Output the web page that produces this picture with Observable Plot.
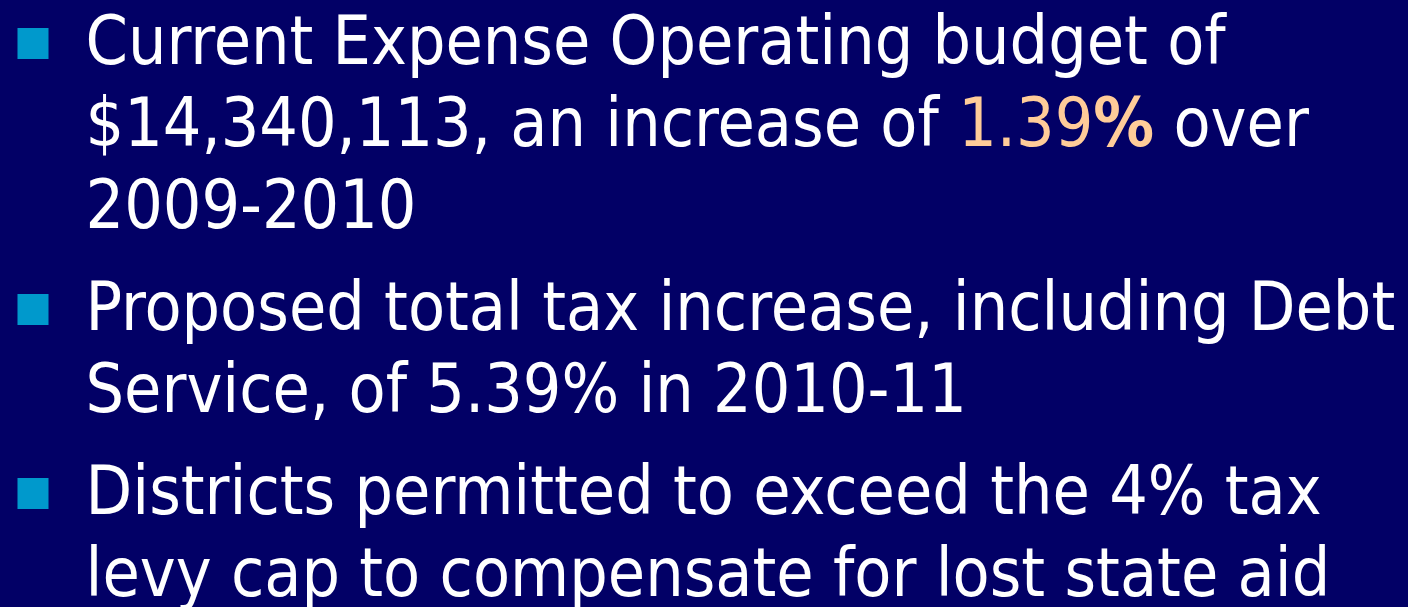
<!DOCTYPE html>
<html>
<head>
<meta charset="utf-8">
<script src="https://cdn.jsdelivr.net/npm/d3@7"></script>
<script src="https://cdn.jsdelivr.net/npm/@observablehq/plot@0.6"></script>
<style>
  html, body { margin: 0; padding: 0; background: #020066; overflow: hidden; }
  #chart svg { display: block; }
</style>
</head>
<body>
<div id="chart"></div>
<script>
// Bullet paragraphs (index of bullet) and their wrapped lines
const bulletIds = [0, 1, 2];
const lineTexts = [
  "Current Expense Operating budget of",
  "$14,340,113, an increase of 1.39% over",
  "2009-2010",
  "Proposed total tax increase, including Debt",
  "Service, of 5.39% in 2010-11",
  "Districts permitted to exceed the 4% tax",
  "levy cap to compensate for lost state aid"
];
const lineBullet = [0, 0, 0, 1, 1, 2, 2];
// highlighted figure inside line 2: number part and bold percent sign
const highlightNumber = "1.39";
const highlightSign = "%";

const GAP = 20 / 82; // extra spacing between paragraphs, in line units
const rows = lineTexts.map((t, i) => ({
  text: t,
  bullet: lineBullet[i],
  row: i + lineBullet[i] * GAP,
  first: i === 0 || lineBullet[i] !== lineBullet[i - 1]
}));
const bullets = rows.filter(d => d.first);

const FONT = "'DejaVu Sans Condensed', 'DejaVu Sans', Tahoma, sans-serif";

const chart = Plot.plot({
  width: 1408,
  height: 607,
  marginTop: 63,
  marginBottom: 12,
  marginLeft: 0,
  marginRight: 0,
  style: { background: "#020066", fontFamily: FONT },
  x: { axis: null, domain: [0, 1], range: [0, 1408] },
  y: { axis: null, domain: [0, rows[rows.length - 1].row], reverse: true },
  marks: [
    Plot.dot(bullets, {
      x: () => 0,
      y: "row",
      dx: 32.5,
      dy: -20,
      symbol: "square",
      r: 17.5,
      fill: "#0099CC",
      stroke: "none"
    }),
    Plot.text(rows, {
      x: () => 0,
      y: "row",
      dx: 85,
      text: "text",
      textAnchor: "start",
      lineAnchor: "bottom",
      fontSize: 67.5,
      fill: "white"
    })
  ]
});

document.getElementById("chart").appendChild(chart);

// Recolour the highlighted figure using tspans
d3.select(chart).selectAll("text").each(function () {
  const full = this.textContent;
  const key = highlightNumber + highlightSign;
  const idx = full.indexOf(key);
  if (idx < 0) return;
  const before = full.slice(0, idx);
  const after = full.slice(idx + key.length);
  const el = d3.select(this);
  const tspan = el.select("tspan");
  const target = tspan.empty() ? el : tspan;
  target.text(null);
  target.append("tspan").text(before);
  target.append("tspan").attr("fill", "#FFCC99").text(highlightNumber);
  target.append("tspan").attr("fill", "#FFCC99").attr("font-weight", "bold").text(highlightSign);
  target.append("tspan").text(after);
});
</script>
</body>
</html>
